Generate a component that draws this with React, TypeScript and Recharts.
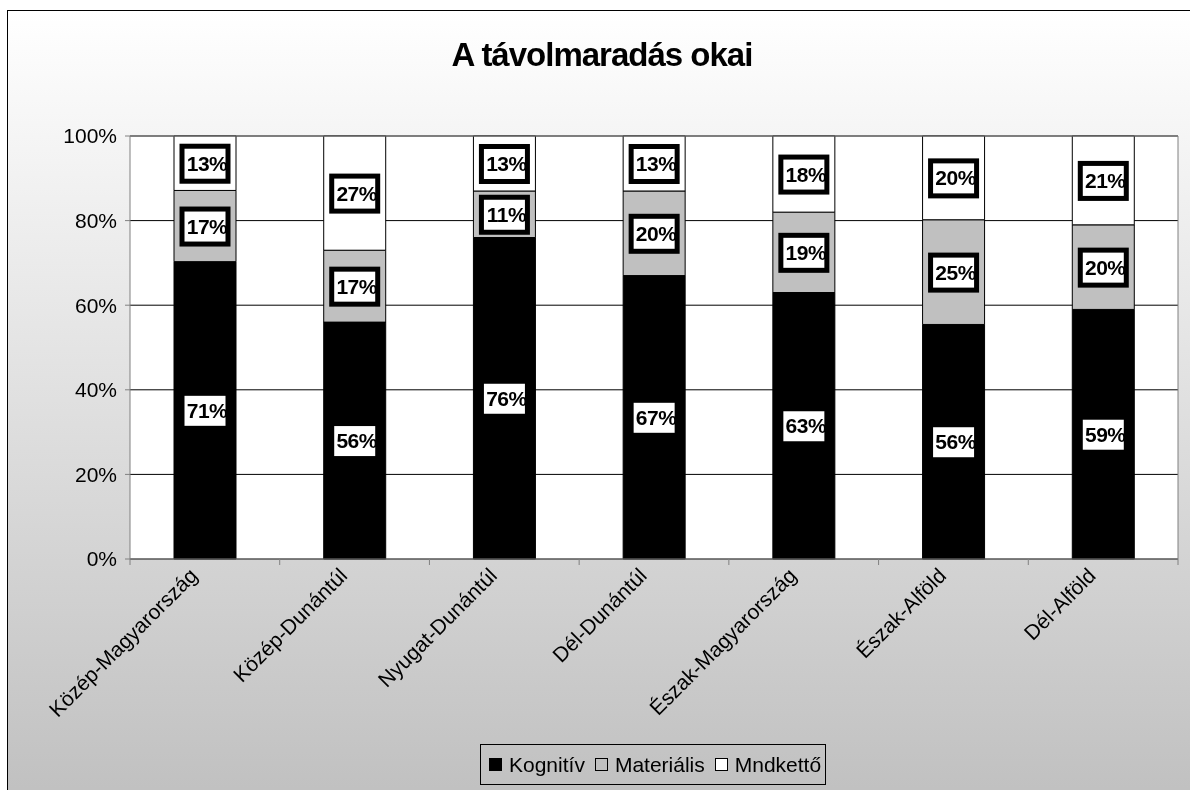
import { BarChart, Bar, XAxis, YAxis, CartesianGrid, LabelList } from 'recharts';

const categories = [
  'Közép-Magyarország',
  'Közép-Dunántúl',
  'Nyugat-Dunántúl',
  'Dél-Dunántúl',
  'Észak-Magyarország',
  'Észak-Alföld',
  'Dél-Alföld',
];
const kognitiv = [71, 56, 76, 67, 63, 56, 59];
const materialis = [17, 17, 11, 20, 19, 25, 20];
const mindketto = [13, 27, 13, 13, 18, 20, 21];
const seriesNames = ['Kognitív', 'Materiális', 'Mndkettő'];
const seriesColors = ['#000000', '#c0c0c0', '#ffffff'];
const yTicks = [0, 20, 40, 60, 80, 100];

const data = categories.map((region, i) => ({
  region,
  kognitiv: kognitiv[i],
  materialis: materialis[i],
  mindketto: mindketto[i],
}));

const FONT = '"Liberation Sans", Arial, sans-serif';

function BoxLabel(props: any) {
  const x = Number(props.x);
  const y = Number(props.y);
  const w = Number(props.width);
  const h = Number(props.height);
  const cx = x + w / 2;
  const cy = y + h / 2;
  return (
    <g>
      <rect x={cx - 23} y={cy - 17} width={46} height={35} fill="#fff" stroke="#000" strokeWidth={5} />
      <text
        x={cx + 2}
        y={cy}
        dy="0.36em"
        textAnchor="middle"
        fontFamily={FONT}
        fontWeight="bold"
        fontSize={21}
        letterSpacing={-0.5}
        fill="#000"
      >
        {props.value}%
      </text>
    </g>
  );
}

// rotated region name, plus the small tick marks sitting between categories
function RegionTick({ x, y, payload, index }: any) {
  const px = Number(x);
  const py = Number(y);
  const half = Number(payload?.offset);
  const tx = px - 6;
  const ty = py + 18;
  return (
    <g>
      {Number.isFinite(half) && half > 0 && (
        <line x1={px - half} x2={px - half} y1={py} y2={py + 6} stroke="#808080" />
      )}
      {Number.isFinite(half) && half > 0 && index === categories.length - 1 && (
        <line x1={px + half} x2={px + half} y1={py} y2={py + 6} stroke="#808080" />
      )}
      <text
        x={tx}
        y={ty}
        transform={`rotate(-45 ${tx} ${ty})`}
        textAnchor="end"
        fontFamily={FONT}
        fontSize={21}
        fill="#000"
      >
        {payload.value}
      </text>
    </g>
  );
}

export default function App() {
  return (
    <div style={{ position: 'fixed', left: 0, top: 0, width: 1190, height: 790, overflow: 'hidden', fontFamily: FONT }}>
      <div
        style={{
          position: 'absolute',
          left: 7,
          top: 10,
          width: 1200,
          height: 800,
          border: '1px solid #000',
          background: 'linear-gradient(#ffffff, #c0c0c0 790px)',
        }}
      />
      <div
        style={{
          position: 'absolute',
          left: 7,
          top: 38,
          width: 1190,
          textAlign: 'center',
          fontSize: 33,
          lineHeight: '33px',
          fontWeight: 'bold',
          letterSpacing: -1,
          color: '#000',
        }}
      >
        A távolmaradás okai
      </div>
      <div style={{ position: 'absolute', left: 0, top: 0 }}>
        <BarChart
          width={1190}
          height={790}
          data={data}
          stackOffset="expand"
          margin={{ top: 135, right: 11, bottom: 230, left: 0 }}
        >
          <CartesianGrid vertical={false} stroke="#000" fill="#fff" fillOpacity={1} />
          <XAxis
            dataKey="region"
            interval={0}
            height={1}
            tickLine={false}
            stroke="#808080"
            tickSize={0}
            tickMargin={0}
            tick={<RegionTick />}
          />
          <XAxis
            xAxisId="top"
            orientation="top"
            type="number"
            domain={[0, 1]}
            tick={false}
            tickLine={false}
            height={1}
            stroke="#808080"
            allowDataOverflow
          />
          <YAxis
            domain={[0, 1]}
            ticks={yTicks.map((v) => v / 100)}
            tickFormatter={(v: number) => `${Math.round(v * 100)}%`}
            width={130}
            tickSize={5}
            tickMargin={8}
            stroke="#808080"
            tick={{ fontSize: 21, fill: '#000', fontFamily: FONT }}
          />
          <YAxis
            yAxisId="right"
            orientation="right"
            domain={[0, 1]}
            tick={false}
            tickLine={false}
            width={1}
            stroke="#808080"
            allowDataOverflow
          />
          <Bar dataKey="kognitiv" name={seriesNames[0]} stackId="a" barSize={62} fill={seriesColors[0]} stroke="#000" isAnimationActive={false}>
            <LabelList dataKey="kognitiv" content={<BoxLabel />} />
          </Bar>
          <Bar dataKey="materialis" name={seriesNames[1]} stackId="a" barSize={62} fill={seriesColors[1]} stroke="#000" isAnimationActive={false}>
            <LabelList dataKey="materialis" content={<BoxLabel />} />
          </Bar>
          <Bar dataKey="mindketto" name={seriesNames[2]} stackId="a" barSize={62} fill={seriesColors[2]} stroke="#000" isAnimationActive={false}>
            <LabelList dataKey="mindketto" content={<BoxLabel />} />
          </Bar>
        </BarChart>
      </div>
      <div
        style={{
          position: 'absolute',
          left: 480,
          top: 744,
          width: 346,
          height: 41,
          boxSizing: 'border-box',
          border: '1px solid #000',
          display: 'flex',
          alignItems: 'center',
          paddingLeft: 8,
          fontSize: 21,
          color: '#000',
          whiteSpace: 'nowrap',
        }}
      >
        {seriesNames.map((name, i) => (
          <span key={name} style={{ display: 'flex', alignItems: 'center', marginRight: 10 }}>
            <span
              style={{
                display: 'inline-block',
                width: 11,
                height: 11,
                border: '1px solid #000',
                background: seriesColors[i],
                marginRight: 7,
              }}
            />
            {name}
          </span>
        ))}
      </div>
    </div>
  );
}
